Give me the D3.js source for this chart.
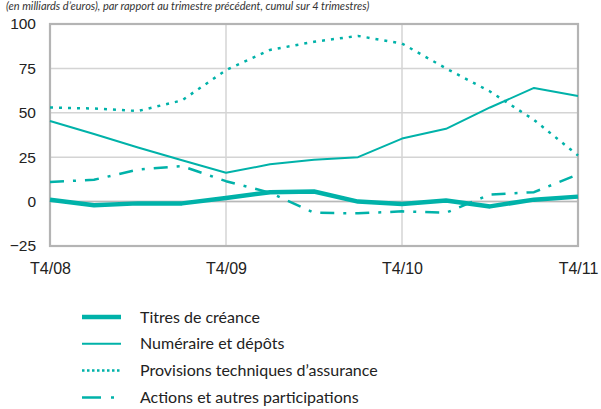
<!DOCTYPE html>
<html>
<head>
<meta charset="utf-8">
<title>Flux de placements</title>
<style>
  body { margin: 0; background: #fff; }
  svg { display: block; font-family: Lato, "Noto Sans", sans-serif; }
  .grid line { stroke: #d4d4d4; stroke-width: 1.5; }
  .axis text { fill: #222; font-size: 15.5px; }
</style>
</head>
<body>
<svg width="601" height="409"></svg>
<script src="https://d3js.org/d3.v7.min.js"></script>
<script>
// quarters T4/08 .. T4/11
var quarters = d3.range(13);
var xTickLabels = ["T4/08", "T4/09", "T4/10", "T4/11"];
var yTicks = [-25, 0, 25, 50, 75, 100];

var titres     = [1, -2, -1, -1, 2, 5.3, 5.7, 0, -1.3, 0.6, -2.7, 1.1, 2.8];
var numeraire  = [45.4, 38.1, 30.5, 23.3, 16.2, 21, 23.5, 25, 35.5, 41, 53, 64, 59.4];
var provisions = [53, 52.4, 51, 57, 74, 85.4, 90, 93.3, 89, 75, 62, 46, 26];
var actions    = [11, 12.3, 18, 20, 11.5, 5, -6.3, -6.6, -5.5, -6.3, 4, 5.3, 15.3];

var series = [
  {name: "Titres de créance", values: titres, width: 4.5, dash: null},
  {name: "Numéraire et dépôts", values: numeraire, width: 2, dash: null},
  {name: "Provisions techniques d\u2019assurance", values: provisions, width: 2.5, dash: "3,6"},
  {name: "Actions et autres participations", values: actions, width: 2.5, dash: "14,9,3,9"}
];

var teal = "#00b2a9";
var svg = d3.select("svg");
var margin = {top: 24, right: 23, bottom: 163, left: 50};
var width = 601 - margin.left - margin.right;
var height = 409 - margin.top - margin.bottom;

var x = d3.scaleLinear().domain([0, 12]).range([margin.left, margin.left + width]);
var y = d3.scaleLinear().domain([-25, 100]).range([margin.top + height, margin.top]);

// subtitle (cropped at the top in the source)
svg.append("text")
    .attr("x", 6).attr("y", 10)
    .attr("font-style", "italic")
    .attr("font-size", 11)
    .attr("fill", "#333")
    .text("(en milliards d\u2019euros), par rapport au trimestre précédent, cumul sur 4 trimestres)");

// grid
var grid = svg.append("g").attr("class", "grid");
grid.selectAll(".h").data(yTicks).enter().append("line")
    .attr("x1", x(0)).attr("x2", x(12))
    .attr("y1", function(d) { return y(d); })
    .attr("y2", function(d) { return y(d); });
grid.selectAll(".v").data([4, 8]).enter().append("line")
    .attr("x1", function(d) { return x(d); })
    .attr("x2", function(d) { return x(d); })
    .attr("y1", y(100)).attr("y2", y(-25));

svg.append("line")
    .attr("x1", x(0)).attr("x2", x(12))
    .attr("y1", y(0)).attr("y2", y(0))
    .attr("stroke", "#b8b8b8").attr("stroke-width", 1.5);

svg.append("rect")
    .attr("x", x(0)).attr("y", y(100))
    .attr("width", x(12) - x(0)).attr("height", y(-25) - y(100))
    .attr("fill", "none").attr("stroke", "#b4b4b4").attr("stroke-width", 2.2);

// axes
var yAxis = svg.append("g").attr("class", "axis")
    .attr("transform", "translate(" + (margin.left - 14) + ",0)")
    .call(d3.axisLeft(y).tickValues(yTicks).tickSize(0).tickPadding(0));
yAxis.select(".domain").remove();

var xAxis = svg.append("g").attr("class", "axis")
    .attr("transform", "translate(0," + (y(-25) + 13) + ")")
    .call(d3.axisBottom(x).tickValues([0, 4, 8, 12])
      .tickFormat(function(d) { return xTickLabels[d / 4]; })
      .tickSize(0).tickPadding(4));
xAxis.select(".domain").remove();
xAxis.selectAll("text").style("font-size", "16px");

// lines
var line = d3.line()
    .x(function(d, i) { return x(quarters[i]); })
    .y(function(d) { return y(d); });

svg.selectAll(".series").data(series.slice().reverse()).enter().append("path")
    .attr("d", function(d) { return line(d.values); })
    .attr("fill", "none")
    .attr("stroke", teal)
    .attr("stroke-width", function(d) { return d.width; })
    .attr("stroke-dasharray", function(d) { return d.dash; })
    .attr("stroke-linejoin", "round");

// legend
var legend = svg.selectAll(".legend").data(series).enter().append("g")
    .attr("transform", function(d, i) { return "translate(82," + (317 + i * 26.8) + ")"; });

legend.append("line")
    .attr("x1", 0).attr("x2", 39)
    .attr("stroke", teal)
    .attr("stroke-width", function(d) { return d.width; })
    .attr("stroke-dasharray", function(d, i) { return i == 2 ? "2.5,2.5" : (i == 3 ? "19,10,3,10" : null); });

legend.append("text")
    .attr("x", 58).attr("dy", "0.35em")
    .attr("font-size", 16)
    .attr("fill", "#222")
    .text(function(d) { return d.name; });
</script>
</body>
</html>
